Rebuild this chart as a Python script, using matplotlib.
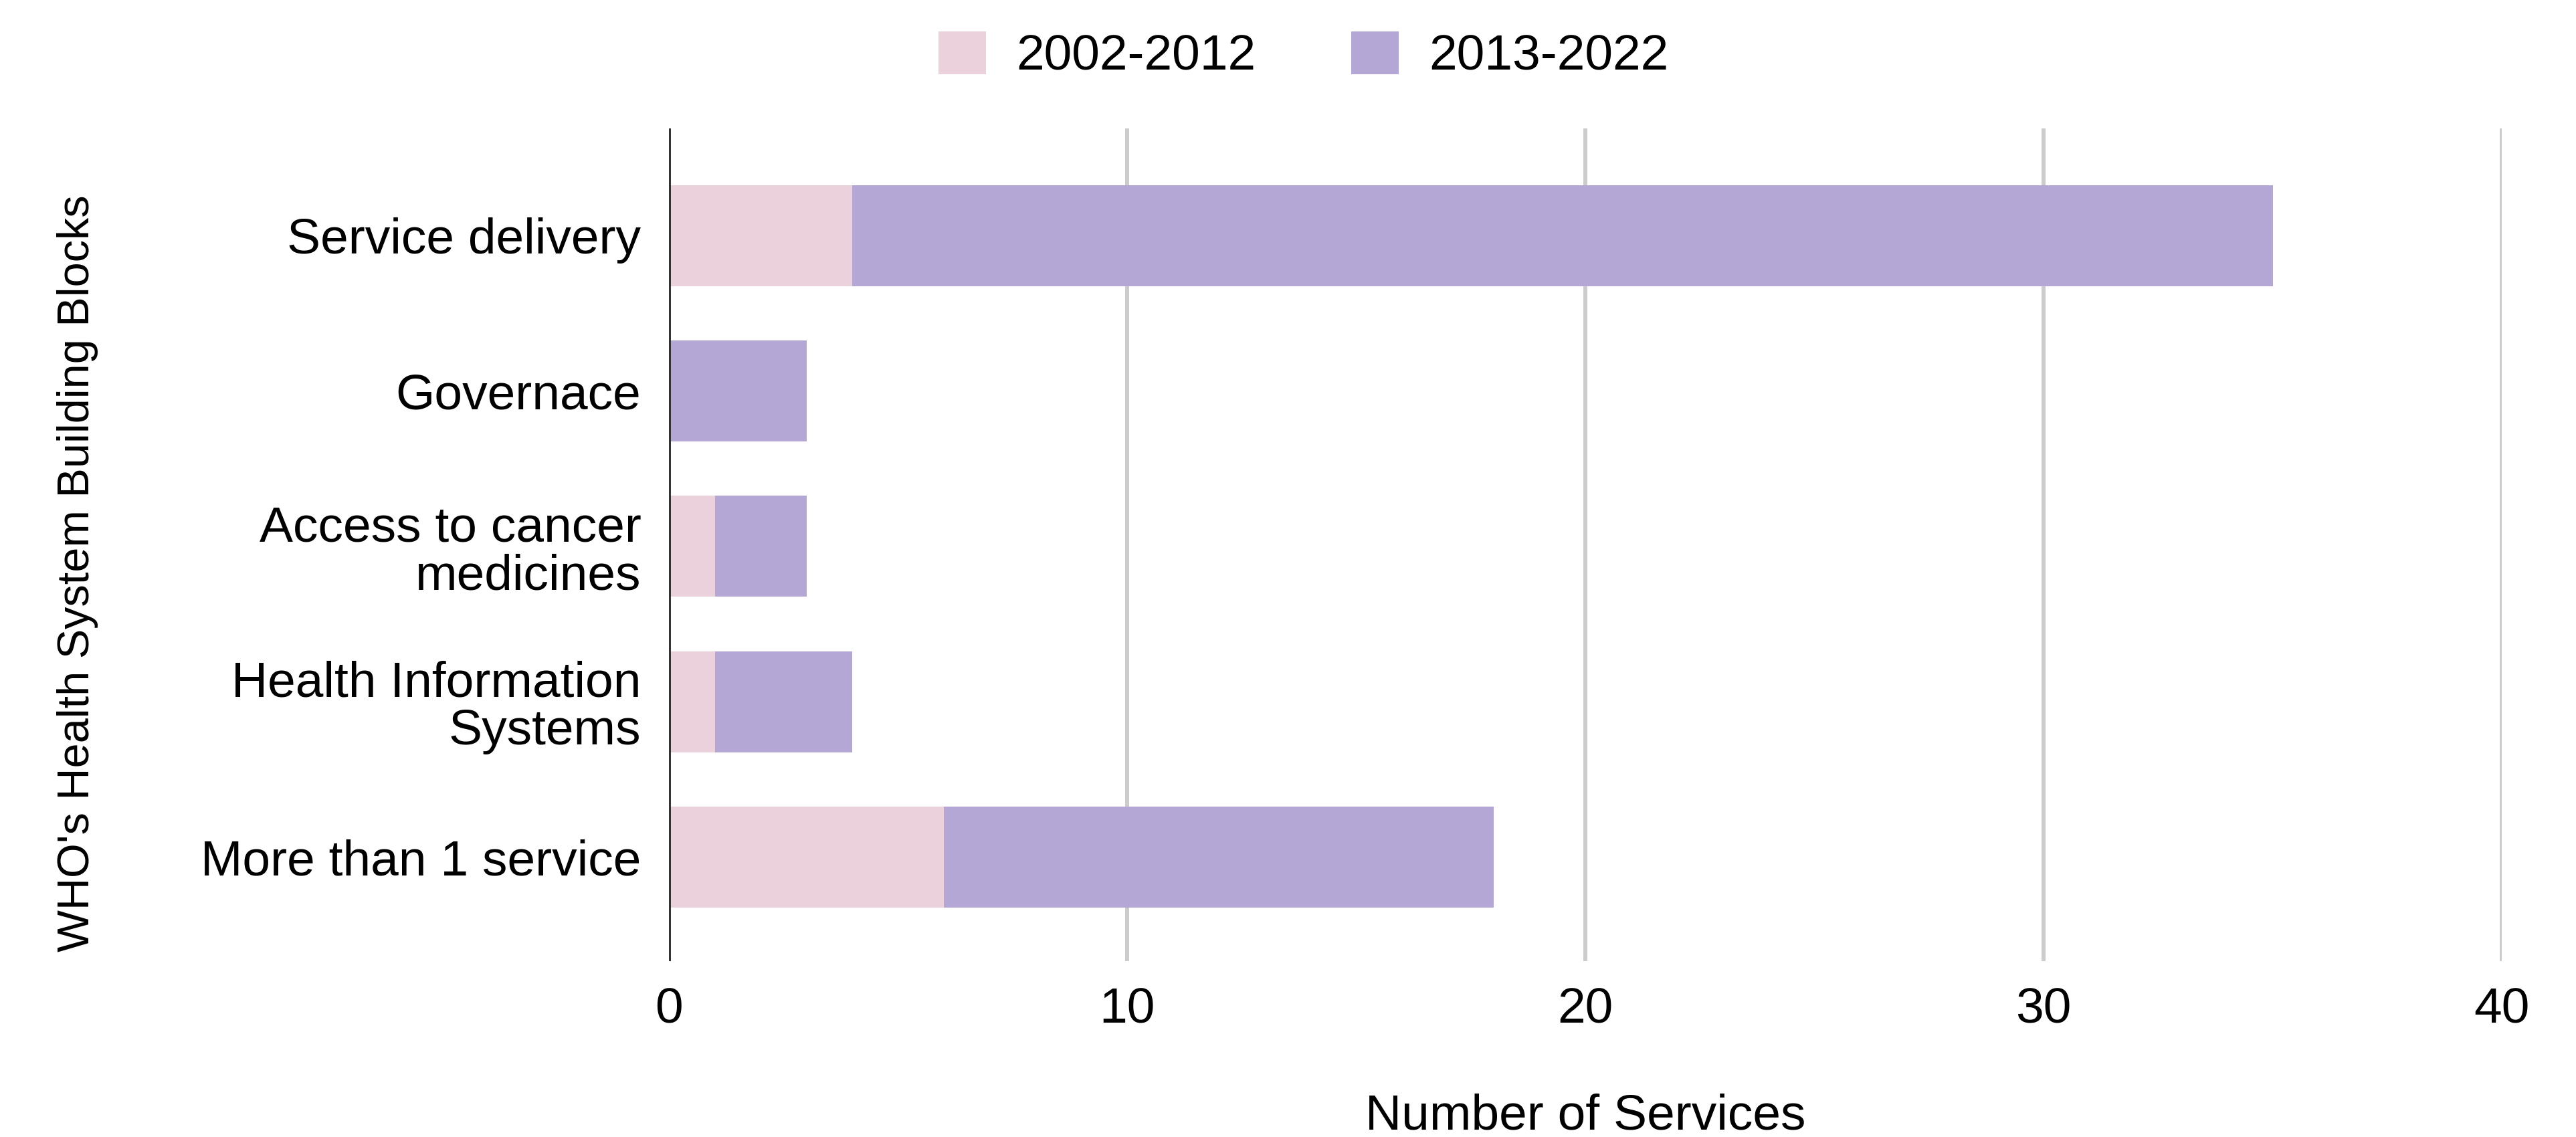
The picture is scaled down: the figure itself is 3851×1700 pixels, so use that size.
import numpy as np
import matplotlib
matplotlib.use("Agg")
import matplotlib.pyplot as plt
from matplotlib.patches import Patch

plt.rcParams['font.family'] = ['Liberation Sans', 'DejaVu Sans']

categories = ["Service delivery", "Governace", "Access to cancer\nmedicines",
              "Health Information\nSystems", "More than 1 service"]
early = [4, 0, 1, 1, 6]
late = [31, 3, 2, 3, 12]
series_names = ["2002-2012", "2013-2022"]
colors = ["#EAD1DC", "#B4A7D6"]
xticks = [0, 10, 20, 30, 40]

fig = plt.figure(figsize=(38.51, 17), dpi=100)
ax = fig.add_axes([0.2597, 0.1547, 0.9712 - 0.2597, 0.887 - 0.1547])

y = np.arange(len(categories))
ax.barh(y, early, height=0.65, color=colors[0], zorder=2)
ax.barh(y, late, left=early, height=0.65, color=colors[1], zorder=2)

ax.set_ylim(len(categories) - 0.33, -0.69)
ax.set_xlim(0, 40)
ax.set_yticks(y)
ax.set_yticklabels(categories, fontsize=54, linespacing=1.05)
ax.set_xticks(xticks)
ax.set_xticklabels([str(t) for t in xticks], fontsize=54)
ax.tick_params(axis='both', length=0)
ax.tick_params(axis='x', pad=28)
ax.tick_params(axis='y', pad=30)

for s in ax.spines.values():
    s.set_visible(False)
ax.grid(axis='x', color='#CCCCCC', linewidth=4.3, zorder=0)
ax.axvline(0, color='#333333', linewidth=4.3, zorder=3)

fig.text(0.030, 0.496, "WHO's Health System Building Blocks", rotation=90,
         fontsize=48, ha='center', va='center')
fig.text(0.6155, 0.018, "Number of Services", fontsize=54, ha='center', va='center')

handles = [Patch(facecolor=c, edgecolor='none') for c in colors]
fig.legend(handles, series_names, loc='center', bbox_to_anchor=(0.506, 0.951),
           ncol=2, frameon=False, fontsize=54, handlelength=0.95, handleheight=0.95,
           handletextpad=0.6, columnspacing=1.9)

fig.savefig("out.png", dpi=100)
